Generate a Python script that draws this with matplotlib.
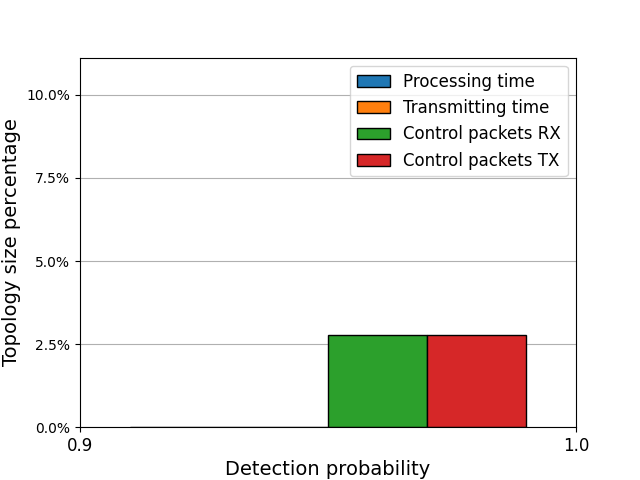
import matplotlib
matplotlib.use("Agg")
import matplotlib.pyplot as plt
import numpy as np
from matplotlib.ticker import PercentFormatter

# detection probability groups and the share of topology size per series
probabilities = [0.95]
series = ["Processing time", "Transmitting time", "Control packets RX", "Control packets TX"]
processing = [0.0]
transmitting = [0.0]
control_rx = [0.0278]
control_tx = [0.0278]
colors = ["#1f77b4", "#ff7f0e", "#2ca02c", "#d62728"]

values = [processing, transmitting, control_rx, control_tx]
width = 0.02
offsets = (np.arange(len(series)) - (len(series) - 1) / 2) * width

fig, ax = plt.subplots(figsize=(6.4, 4.8), dpi=100)
x = np.array(probabilities)
for vals, off, label, col in zip(values, offsets, series, colors):
    ax.bar(x + off, vals, width=width, color=col, edgecolor="black", label=label)

ax.set_axisbelow(True)
ax.grid(axis="y", color="#b0b0b0", linewidth=0.8)
ax.set_xlim(0.9, 1.0)
ax.set_ylim(0, 4 * max(control_rx + control_tx))
ax.set_xticks([0.9, 1.0])
ax.set_xticklabels(["0.9", "1.0"], fontsize=12)
ax.set_yticks([0, 0.025, 0.05, 0.075, 0.10])
ax.yaxis.set_major_formatter(PercentFormatter(xmax=1, decimals=1))
ax.tick_params(axis="y", labelsize=10)
ax.set_xlabel("Detection probability", fontsize=14)
ax.set_ylabel("Topology size percentage", fontsize=14)
ax.legend(loc="upper right", fontsize=12)

fig.savefig("out.png", dpi=100)
